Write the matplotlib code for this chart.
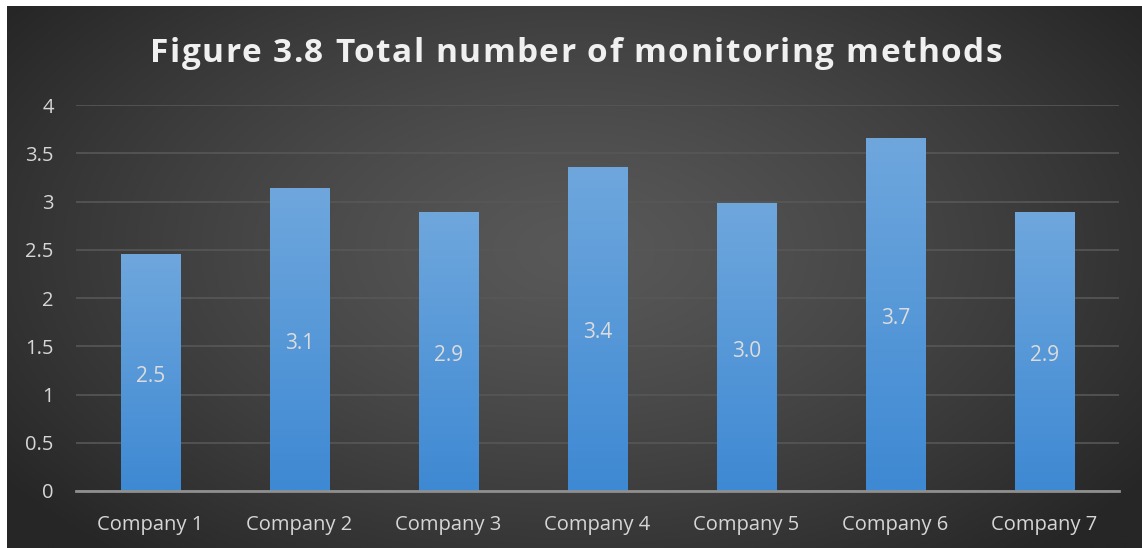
import matplotlib.pyplot as plt
import numpy as np
from matplotlib.colors import LinearSegmentedColormap

companies = ["Company 1", "Company 2", "Company 3", "Company 4",
             "Company 5", "Company 6", "Company 7"]
values = [2.46, 3.14, 2.89, 3.36, 2.98, 3.66, 2.89]
yticks = [0, 0.5, 1, 1.5, 2, 2.5, 3, 3.5, 4]
ytick_labels = ["0", "0.5", "1", "1.5", "2", "2.5", "3", "3.5", "4"]
title = "Figure 3.8 Total number of monitoring methods"

plt.rcParams['font.family'] = ['Open Sans', 'DejaVu Sans']

W, H = 1142, 548
fig = plt.figure(figsize=(W / 100, H / 100), dpi=100, facecolor="white")

# dark radial-gradient backdrop (white strip left/top like the scan)
bg = fig.add_axes([7 / W, 0, (W - 7) / W, (H - 6) / H])
bg.set_axis_off()
yy, xx = np.mgrid[0:1:300j, 0:1:600j]
r = np.sqrt(((xx - 0.5) / 0.62) ** 2 + ((yy - 0.45) / 0.75) ** 2)
r = np.clip(r, 0, 1)
c_in = np.array([0x58, 0x58, 0x58]) / 255
c_out = np.array([0x26, 0x26, 0x26]) / 255
img = c_in[None, None, :] * (1 - r[..., None] ** 1.3) + c_out[None, None, :] * (r[..., None] ** 1.3)
bg.imshow(img, aspect="auto", extent=[0, 1, 0, 1])
bg.set_xlim(0, 1)
bg.set_ylim(0, 1)

ax = fig.add_axes([76 / W, (H - 491) / H, (1119 - 76) / W, (491 - 105) / H])
ax.patch.set_alpha(0)
x = np.arange(len(companies))
bars = ax.bar(x, values, width=0.4, color="#5b9bd5", zorder=3)

# vertical gradient on each bar
grad = np.linspace(0, 1, 256)[:, None]
cmap = LinearSegmentedColormap.from_list("bar", ["#3e89d3", "#6fa7dd"])
for b in bars:
    bx, by = b.get_x(), b.get_y()
    bw, bh = b.get_width(), b.get_height()
    im = ax.imshow(grad, cmap=cmap, origin="lower", aspect="auto",
                   extent=[bx, bx + bw, by, by + bh], zorder=4)
    im.set_clip_path(b)

for xi, v in zip(x, values):
    ax.annotate(f"{v:.1f}", (xi, v / 2), xytext=(0, -4), textcoords="offset pixels",
                ha="center", va="center", color="#dcdcdc", fontsize=15, zorder=5)

ax.set_xlim(-0.5, len(companies) - 0.5)
ax.set_ylim(0, 4)
ax.set_yticks(yticks)
ax.set_yticklabels(ytick_labels)
ax.set_xticks(x)
ax.set_xticklabels(companies)
ax.tick_params(axis="both", length=0, colors="#d6d6d6", labelsize=14.5)
ax.tick_params(axis="x", pad=17)
ax.tick_params(axis="y", pad=16)
ax.grid(axis="y", color="#575757", linewidth=1.2, zorder=1)
for s in ["top", "right", "left"]:
    ax.spines[s].set_visible(False)
ax.spines["bottom"].set_color("#8f8f8f")
ax.spines["bottom"].set_linewidth(2)
ax.spines["bottom"].set_zorder(6)

# title with expanded letter spacing, placed char by char
renderer = fig.canvas.get_renderer()
tkw = dict(color="#f0f0f0", fontsize=24, fontweight="bold", va="center", ha="left")
spacing = 1.5  # extra px per char

def text_w(s):
    t = fig.text(0, 0, s, **tkw)
    w = t.get_window_extent(renderer).width
    t.remove()
    return w

total = text_w(title) + spacing * (len(title) - 1)
x0 = 576 - total / 2
for i, ch in enumerate(title):
    if ch == " ":
        continue
    xpos = x0 + text_w(title[:i + 1]) - text_w(ch) + spacing * i
    fig.text(xpos / W, (H - 53) / H, ch, **tkw)

fig.savefig("out.png", dpi=100, facecolor=fig.get_facecolor())
